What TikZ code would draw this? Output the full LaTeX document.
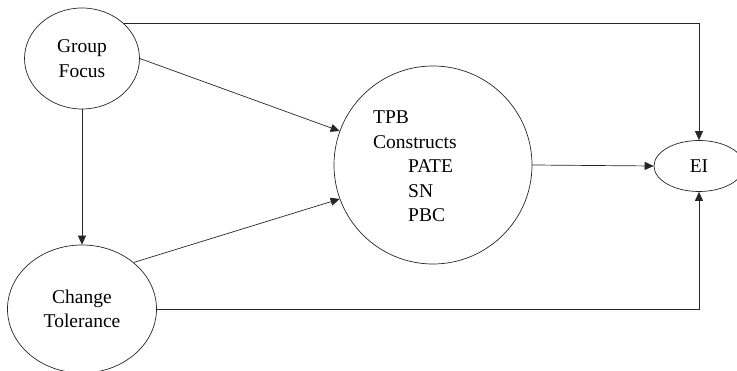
\documentclass[tikz,border=0pt]{standalone}
\usepackage{fontspec}
\setmainfont{Liberation Serif}
\usetikzlibrary{shapes.geometric}
\usetikzlibrary{arrows.meta}

\begin{document}
\begin{tikzpicture}
	[
		x = 1pt, y = -1pt,
		font = \fontsize{19.5}{24.5}\selectfont,
		construct/.style = {ellipse, draw = black!85, line width = 0.7pt, inner sep = 0pt, align = center},
		link/.style = {draw = black!85, line width = 0.7pt, -{Triangle[length = 9pt, width = 8pt]}},
	]
	\useasboundingbox (0,0) rectangle (737,371);
	\node (focus) [construct, minimum width = 115pt, minimum height = 101pt] at (82,58.5) {Group\\Focus};
	\node (change) [construct, minimum width = 149pt, minimum height = 128pt] at (82,309) {Change\\Tolerance};
	\node (tpb) [construct, circle, minimum size = 198pt] at (433,165) {};
	% base of a multi-line node sits on its last line
	\node (tpbtext) [anchor = base west, align = left, inner sep = 0pt] at (373,222) {TPB\\Constructs\\\hspace*{35pt}PATE\\\hspace*{35pt}SN\\\hspace*{35pt}PBC};
	\node (ei) [construct, minimum width = 90pt, minimum height = 51pt] at (699,166) {EI};
	% paths between the constructs
	\draw [link] (focus.40) -| (ei.north);
	\draw [link] (focus.east) -- (tpb.160);
	\draw [link] (focus.south) -- (change.north);
	\draw [link] (change.42) -- (tpb.200);
	\draw [link] (change.east) -| (ei.south);
	\draw [link] (tpb.east) -- (ei.west);
\end{tikzpicture}
\end{document}
